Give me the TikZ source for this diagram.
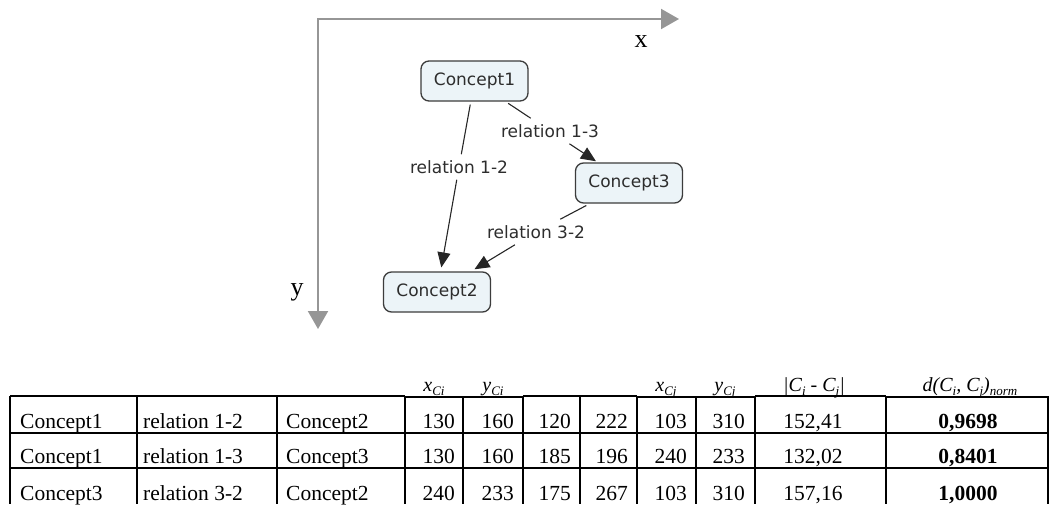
\documentclass[tikz,border=0pt]{standalone}
\usepackage{fontspec}
\setmainfont{Liberation Serif}
\newfontfamily\mapfont{DejaVu Sans}
\usetikzlibrary{arrows.meta}
\definecolor{axisgrey}{RGB}{150,150,150}
\definecolor{boxfill}{RGB}{236,244,248}
\definecolor{boxline}{RGB}{60,60,60}
\definecolor{maptext}{RGB}{45,45,45}
\newcommand\hsub[1]{\raisebox{-0.22em}{\fontsize{13}{13}\selectfont #1}}
\begin{document}
\begin{tikzpicture}[x=1pt,y=-1pt,
  concept/.style={draw=boxline,line width=1.3pt,fill=boxfill,rounded corners=8pt,
    minimum width=107pt,minimum height=40pt,inner sep=0pt,
    font=\mapfont\fontsize{17}{20}\selectfont,text=maptext},
  rel/.style={font=\mapfont\fontsize{17}{20}\selectfont,text=maptext,inner sep=6pt},
  link/.style={line width=1.1pt,black!85},
  tip/.style={-{Triangle[length=15pt,width=13pt]}},
  axis/.style={axisgrey,line width=2pt,line cap=rect,-{Triangle[length=18pt,width=20pt]}},
  axlabel/.style={font=\fontsize{26}{28}\selectfont,inner sep=0pt},
  cell/.style={font=\fontsize{21.5}{24}\selectfont,inner sep=0pt},
  head/.style={font=\fontsize{20}{22}\selectfont\itshape,inner sep=0pt,anchor=base},
  thin/.style={line width=1.4pt},
  thick/.style={line width=2.4pt}]
\useasboundingbox (0,0) rectangle (1049,504);
% axes
\coordinate (o) at (318,19);
\coordinate (xe) at (679,19);
\coordinate (ye) at (318,329);
\draw[axis] (o) -- (xe);
\draw[axis] (o) -- (ye);
\node[axlabel,anchor=base] (xl) at (641,47) {x};
\node[axlabel,anchor=base] (yl) at (297,295) {y};
% concept map
\node[concept] (c1) at (474.5,81) {Concept1};
\node[concept] (c3) at (629,183) {Concept3};
\node[concept] (c2) at (437,292) {Concept2};
\node[rel] (l12) at (459,167) {relation 1-2};
\node[rel] (l13) at (550,131) {relation 1-3};
\node[rel] (l32) at (536,232) {relation 3-2};
\draw[link,shorten <=3pt] (c1) -- (l12);
\draw[link,tip,shorten >=4pt] (l12) -- (c2);
\draw[link,shorten <=3pt] (c1) -- (l13);
\draw[link,tip,shorten >=2pt] (l13) -- (c3);
\draw[link,shorten <=4pt] (c3) -- (l32);
\draw[link,tip,shorten >=4pt] (l32) -- (c2);
% table grid
\draw[thin] (10,396) -- (405,396);
\draw[thin] (523,396) -- (637,396);
\draw[thin] (755,396) -- (886,396);
\draw[thick] (405,397) -- (523,397);
\draw[thick] (637,397) -- (755,397);
\draw[thick] (886,397) -- (1049,397);
\draw[thin] (10,433) -- (405,433);
\draw[thin] (10,468) -- (405,468);
\draw[thick] (405,433) -- (1049,433);
\draw[thick] (405,468) -- (1049,468);
\foreach \cx in {10,137,277} \draw[thin] (\cx,396) -- (\cx,504);
\foreach \cx in {405,463,523,580,637,696,755,886,1048} \draw[thick] (\cx,396) -- (\cx,504);
% headers
\node[head] (hxi) at (434,391) {x\hsub{Ci}};
\node[head] (hyi) at (493,391) {y\hsub{Ci}};
\node[head] (hxj) at (666,391) {x\hsub{Cj}};
\node[head] (hyj) at (725,391) {y\hsub{Cj}};
\node[head] (hd) at (814,391) {|C\hsub{i} - C\hsub{j}|};
\node[head] (hn) at (970,391) {d(C\hsub{i}, C\hsub{j})\hsub{norm}};
% row 1
\node[cell,anchor=base west] (a1) at (20,428) {Concept1};
\node[cell,anchor=base west] (b1) at (143,428) {relation 1-2};
\node[cell,anchor=base west] (e1) at (286,428) {Concept2};
\node[cell,anchor=base east] (f1) at (455,428) {130};
\node[cell,anchor=base east] (g1) at (514,428) {160};
\node[cell,anchor=base east] (h1) at (571,428) {120};
\node[cell,anchor=base east] (i1) at (628,428) {222};
\node[cell,anchor=base east] (j1) at (687,428) {103};
\node[cell,anchor=base east] (k1) at (745,428) {310};
\node[cell,anchor=base] (m1) at (813,428) {152,41};
\node[cell,anchor=base] (n1) at (968,428) {\bfseries 0,9698};
% row 2
\node[cell,anchor=base west] (a2) at (20,463) {Concept1};
\node[cell,anchor=base west] (b2) at (143,463) {relation 1-3};
\node[cell,anchor=base west] (e2) at (286,463) {Concept3};
\node[cell,anchor=base east] (f2) at (455,463) {130};
\node[cell,anchor=base east] (g2) at (514,463) {160};
\node[cell,anchor=base east] (h2) at (571,463) {185};
\node[cell,anchor=base east] (i2) at (628,463) {196};
\node[cell,anchor=base east] (j2) at (687,463) {240};
\node[cell,anchor=base east] (k2) at (745,463) {233};
\node[cell,anchor=base] (m2) at (813,463) {132,02};
\node[cell,anchor=base] (n2) at (968,463) {\bfseries 0,8401};
% row 3
\node[cell,anchor=base west] (a3) at (20,500) {Concept3};
\node[cell,anchor=base west] (b3) at (143,500) {relation 3-2};
\node[cell,anchor=base west] (e3) at (286,500) {Concept2};
\node[cell,anchor=base east] (f3) at (455,500) {240};
\node[cell,anchor=base east] (g3) at (514,500) {233};
\node[cell,anchor=base east] (h3) at (571,500) {175};
\node[cell,anchor=base east] (i3) at (628,500) {267};
\node[cell,anchor=base east] (j3) at (687,500) {103};
\node[cell,anchor=base east] (k3) at (745,500) {310};
\node[cell,anchor=base] (m3) at (813,500) {157,16};
\node[cell,anchor=base] (n3) at (968,500) {\bfseries 1,0000};
\end{tikzpicture}
\end{document}
